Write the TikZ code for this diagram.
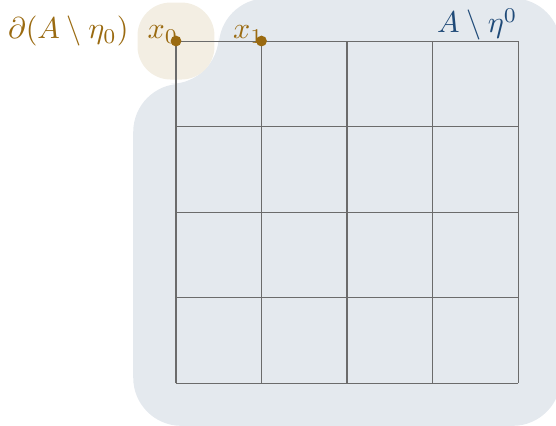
\documentclass[tikz,border=0pt]{standalone}
\usetikzlibrary{positioning}
\definecolor{bdbrown}{HTML}{9A6A10}
\definecolor{regblue}{HTML}{1F4A78}
\definecolor{regfill}{HTML}{E4E9EE}
\definecolor{bdfill}{HTML}{F3EEE3}
\tikzset{Gvx/.style={circle,fill=bdbrown,inner sep=0pt,minimum size=3.6pt},
         Gln/.style={draw=black!58,line width=0.35pt},
         Glab/.style={inner sep=0pt,text=bdbrown}}

\begin{document}
\begin{tikzpicture}
  \useasboundingbox (-2.058,-0.491) rectangle (4.444,4.480);
  \fill[regfill,rounded corners=16pt] (-0.5,-0.5) -- (-0.5,3.5) -- (0.5,3.5) -- (0.5,4.5) -- (4.5,4.5) -- (4.5,-0.5) -- cycle;
  \fill[bdfill,rounded corners=11pt] (-0.45,3.55) rectangle (0.45,4.45);
  \foreach \i in {0,...,4}
    {\draw[Gln] (\i,0) -- (\i,4); \draw[Gln] (0,\i) -- (4,\i);}
  \node[Gvx] (x0) at (0,4) {};
  \node[Gvx] (x1) at (1,4) {};
  \node[Glab,anchor=south east] (x0lab) at ([xshift=1pt,yshift=-1pt]x0.center) {$x_0$};
  \node[Glab,anchor=south east] (x1lab) at ([xshift=1pt,yshift=-1pt]x1.center) {$x_1$};
  \node[Glab,anchor=base east] (bdlab) at ([xshift=-6pt]x0lab.base west) {$\partial(A\setminus\eta_0)$};
  \node[inner sep=0pt,anchor=south east,text=regblue] (reglab) at (4,4) {$A\setminus\eta^0$};
\end{tikzpicture}
\end{document}
